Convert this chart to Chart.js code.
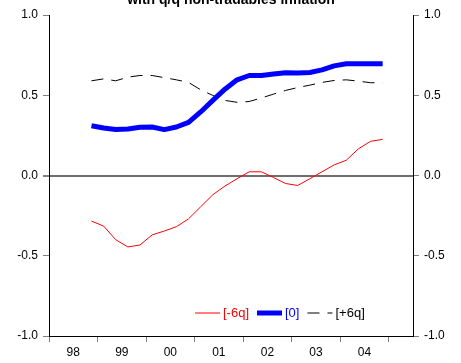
<!DOCTYPE html>
<html>
<head>
<meta charset="utf-8">
<script src="https://cdn.jsdelivr.net/npm/chart.js@4"></script>
<style>
    body { margin: 0; background: #fff; }
    canvas { display: block; }
</style>
</head>
<body>
<canvas id="chart" width="461" height="363"></canvas>
<script>
// Годы на оси X (подписи между делениями)
const years = ['98', '99', '00', '01', '02', '03', '04'];
// Первый квартал с данными: 98Q4 (индекс квартала от 98Q1)
const firstQuarter = 3;
const quarterCount = 30;

const labels = ['[-6q]', '[0]', '[+6q]'];
const lagMinus6 = [-0.284, -0.315, -0.40, -0.445, -0.433, -0.37, -0.346, -0.319, -0.27, -0.195,
    -0.12, -0.066, -0.02, 0.023, 0.023, -0.012, -0.05, -0.062, -0.02, 0.023,
    0.066, 0.095, 0.166, 0.213, 0.225];
const lag0 = [0.31, 0.296, 0.286, 0.29, 0.30, 0.302, 0.286, 0.302, 0.331, 0.396,
    0.468, 0.538, 0.596, 0.623, 0.623, 0.632, 0.64, 0.638, 0.642, 0.658,
    0.683, 0.696, 0.696, 0.696, 0.696];
const lagPlus6 = [0.59, 0.602, 0.59, 0.613, 0.623, 0.623, 0.61, 0.596, 0.58, 0.534,
    0.499, 0.468, 0.456, 0.461, 0.483, 0.507, 0.53, 0.548, 0.563, 0.58,
    0.592, 0.596, 0.588, 0.578, 0.578];

const toPoints = (values) => values.map((v, i) => ({ x: firstQuarter + i + 0.5, y: v }));

const font = { family: 'Arial, "Liberation Sans"', size: 12 };

// Заголовок (обрезан сверху, как на исходнике)
const titlePlugin = {
    id: 'cutTitle',
    afterDraw(chart) {
        const ctx = chart.ctx;
        const area = chart.chartArea;
        ctx.save();
        ctx.font = 'bold 14px Arial, "Liberation Sans"';
        ctx.fillStyle = '#000';
        ctx.textAlign = 'center';
        ctx.textBaseline = 'alphabetic';
        ctx.fillText('with q/q non-tradables inflation', (area.left + area.right) / 2, 4);
        ctx.restore();
    }
};

// Легенда внутри области графика, справа снизу
const legendPlugin = {
    id: 'innerLegend',
    afterDraw(chart) {
        const ctx = chart.ctx;
        let x = 195;
        const y = 313;
        ctx.save();
        ctx.font = '13px Arial, "Liberation Sans"';
        ctx.textBaseline = 'middle';
        chart.data.datasets.forEach((ds) => {
            ctx.beginPath();
            ctx.strokeStyle = ds.borderColor;
            ctx.lineWidth = ds.borderWidth;
            ctx.setLineDash(ds.borderDash || []);
            ctx.moveTo(x, y);
            ctx.lineTo(x + 25, y);
            ctx.stroke();
            ctx.setLineDash([]);
            x += 28;
            ctx.fillStyle = ds.borderColor;
            ctx.fillText(ds.label, x, y);
            x += ctx.measureText(ds.label).width + 8;
        });
        ctx.restore();
    }
};

const transparent = 'rgba(0,0,0,0)';

const config = {
    type: 'line',
    data: {
        datasets: [
            {
                label: labels[0],
                data: toPoints(lagMinus6),
                borderColor: '#ff0000',
                borderWidth: 1,
                pointRadius: 0,
                tension: 0
            },
            {
                label: labels[1],
                data: toPoints(lag0),
                borderColor: '#0000ff',
                borderWidth: 5,
                pointRadius: 0,
                tension: 0,
                borderJoinStyle: 'round'
            },
            {
                label: labels[2],
                data: toPoints(lagPlus6),
                borderColor: '#000000',
                borderWidth: 1,
                borderDash: [12, 8],
                pointRadius: 0,
                tension: 0
            }
        ]
    },
    options: {
        responsive: false,
        animation: false,
        devicePixelRatio: 1,
        layout: { padding: { top: 15, left: 0, right: 0, bottom: 0 } },
        plugins: {
            legend: { display: false },
            tooltip: { enabled: false }
        },
        scales: {
            x: {
                type: 'linear',
                min: 0,
                max: quarterCount,
                border: { color: '#000', width: 1 },
                grid: {
                    drawOnChartArea: false,
                    tickLength: 6,
                    tickColor: (c) => (c.tick && c.tick.value % 4 === 0) ? '#808080' : transparent
                },
                ticks: {
                    stepSize: 2,
                    autoSkip: false,
                    maxRotation: 0,
                    padding: 3,
                    color: '#000',
                    font: font,
                    callback: (v) => (v % 4 === 2 ? (years[(v - 2) / 4] || '') : '')
                },
                afterFit: (s) => { s.height = 27; }
            },
            y: {
                position: 'left',
                min: -1,
                max: 1,
                border: { color: '#000', width: 1 },
                grid: {
                    color: (c) => (c.tick && c.tick.value === 0) ? '#6e6e6e' : transparent,
                    lineWidth: (c) => (c.tick && c.tick.value === 0) ? 2 : 1,
                    tickColor: '#808080',
                    tickLength: 6
                },
                ticks: {
                    stepSize: 0.5,
                    padding: 5,
                    color: '#000',
                    font: font,
                    callback: (v) => v.toFixed(1)
                },
                afterFit: (s) => { s.width = 49; }
            },
            y2: {
                position: 'right',
                min: -1,
                max: 1,
                border: { color: '#000', width: 1 },
                grid: {
                    drawOnChartArea: false,
                    tickColor: '#808080',
                    tickLength: 6
                },
                ticks: {
                    stepSize: 0.5,
                    padding: 5,
                    color: '#000',
                    font: font,
                    callback: (v) => v.toFixed(1)
                },
                afterFit: (s) => { s.width = 48; }
            }
        }
    },
    plugins: [titlePlugin, legendPlugin]
};

const ctx = document.getElementById('chart').getContext('2d');
const chart = new Chart(ctx, config);
</script>
</body>
</html>
